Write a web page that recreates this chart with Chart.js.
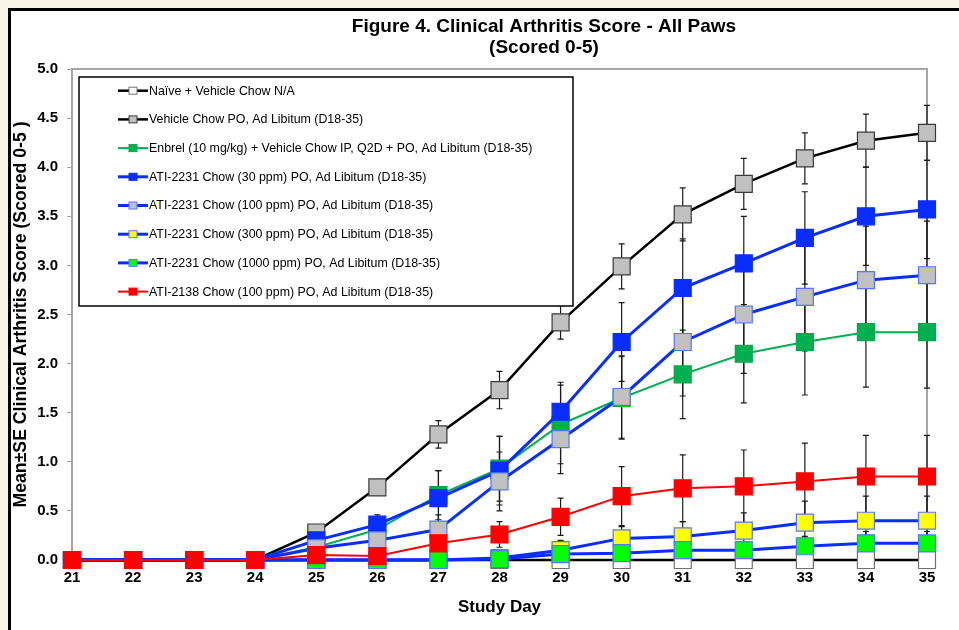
<!DOCTYPE html>
<html>
<head>
<meta charset="utf-8">
<script src="https://cdn.jsdelivr.net/npm/chart.js@4"></script>
<style>
  html, body { margin: 0; padding: 0; background: #f9f5e6; overflow: hidden; }
  #frame { position: absolute; left: 8px; top: 8px; width: 1000px; height: 700px; border: 3px solid #000; background: #fff; }
  #wrap { position: absolute; left: 0; top: 0; width: 959px; height: 630px; }
</style>
</head>
<body>
<div id="frame"></div>
<div id="wrap"><canvas id="c" width="959" height="630"></canvas></div>
<script>
const days = [21, 22, 23, 24, 25, 26, 27, 28, 29, 30, 31, 32, 33, 34, 35];

const titleLines = ['Figure 4. Clinical Arthritis Score - All Paws', '(Scored 0-5)'];

const seriesNames = [
  'Naïve + Vehicle Chow N/A',
  'Vehicle Chow PO, Ad Libitum (D18-35)',
  'Enbrel (10 mg/kg) + Vehicle Chow IP, Q2D + PO, Ad Libitum (D18-35)',
  'ATI-2231 Chow (30 ppm) PO, Ad Libitum (D18-35)',
  'ATI-2231 Chow (100 ppm) PO, Ad Libitum (D18-35)',
  'ATI-2231 Chow (300 ppm) PO, Ad Libitum (D18-35)',
  'ATI-2231 Chow (1000 ppm) PO, Ad Libitum (D18-35)',
  'ATI-2138 Chow (100 ppm) PO, Ad Libitum (D18-35)'
];

const naive      = [0, 0, 0, 0, 0, 0, 0, 0, 0, 0, 0, 0, 0, 0, 0];
const vehicle    = [0, 0, 0, 0, 0.28, 0.74, 1.28, 1.73, 2.42, 2.99, 3.52, 3.83, 4.09, 4.27, 4.35];
const enbrel     = [0, 0, 0, 0, 0.13, 0.31, 0.66, 0.93, 1.38, 1.65, 1.89, 2.10, 2.22, 2.32, 2.32];
const ati30      = [0, 0, 0, 0, 0.20, 0.36, 0.63, 0.91, 1.51, 2.22, 2.77, 3.02, 3.28, 3.50, 3.57];
const ati100     = [0, 0, 0, 0, 0.12, 0.20, 0.31, 0.80, 1.23, 1.66, 2.22, 2.50, 2.68, 2.85, 2.90];
const ati300     = [0, 0, 0, 0, 0, 0, 0, 0.02, 0.10, 0.22, 0.24, 0.30, 0.38, 0.40, 0.40];
const ati1000    = [0, 0, 0, 0, 0, 0, 0, 0.01, 0.06, 0.07, 0.10, 0.10, 0.14, 0.17, 0.17];
const ati2138    = [0, 0, 0, 0, 0.05, 0.04, 0.17, 0.26, 0.44, 0.65, 0.73, 0.75, 0.80, 0.85, 0.85];

const naiveSE    = [0, 0, 0, 0, 0, 0, 0, 0, 0, 0, 0, 0, 0, 0, 0];
const vehicleSE  = [0, 0, 0, 0, 0.03, 0.05, 0.14, 0.19, 0.17, 0.23, 0.27, 0.26, 0.26, 0.27, 0.28];
const enbrelSE   = [0, 0, 0, 0, 0.08, 0.10, 0.25, 0.33, 0.40, 0.42, 0.45, 0.50, 0.54, 0.56, 0.57];
const ati30SE    = [0, 0, 0, 0, 0.05, 0.10, 0.28, 0.35, 0.30, 0.40, 0.50, 0.48, 0.47, 0.50, 0.50];
const ati100SE   = [0, 0, 0, 0, 0.05, 0.10, 0.15, 0.30, 0.35, 0.42, 0.55, 0.60, 0.55, 0.55, 0.55];
const ati300SE   = [0, 0, 0, 0, 0, 0, 0, 0.05, 0.10, 0.12, 0.15, 0.18, 0.22, 0.25, 0.25];
const ati1000SE  = [0, 0, 0, 0, 0, 0, 0, 0, 0.05, 0.07, 0.08, 0.08, 0.10, 0.12, 0.12];
const ati2138SE  = [0, 0, 0, 0, 0.03, 0.03, 0.10, 0.13, 0.19, 0.30, 0.34, 0.37, 0.39, 0.42, 0.42];

const yTicks = [0, 0.5, 1, 1.5, 2, 2.5, 3, 3.5, 4, 4.5, 5];

const FONT = "'Liberation Sans', Arial, sans-serif";

const styles = [
  { line: '#000000', fill: '#ffffff', border: '#707070', lw: 2.5, order: 7 },
  { line: '#000000', fill: '#c0c0c0', border: '#3a3a3a', lw: 2.5, order: 6 },
  { line: '#00b050', fill: '#00b050', border: '#00a848', lw: 2, order: 5 },
  { line: '#0a2dff', fill: '#0a2dff', border: '#0a2dff', lw: 3, order: 4 },
  { line: '#0a2dff', fill: '#c0c0c0', border: '#5577ff', lw: 3, order: 3 },
  { line: '#0a2dff', fill: '#ffff00', border: '#5577ff', lw: 3, order: 2 },
  { line: '#0a2dff', fill: '#00ff00', border: '#5577ff', lw: 3, order: 1 },
  { line: '#ff0000', fill: '#ff0000', border: '#ff0000', lw: 2, order: 0 }
];
const values = [naive, vehicle, enbrel, ati30, ati100, ati300, ati1000, ati2138];
const errors = [naiveSE, vehicleSE, enbrelSE, ati30SE, ati100SE, ati300SE, ati1000SE, ati2138SE];

const datasets = values.map((vals, k) => ({
  label: seriesNames[k],
  data: days.map((d, i) => ({ x: d, y: vals[i] })),
  errs: errors[k],
  borderColor: styles[k].line,
  borderWidth: styles[k].lw,
  pointStyle: 'rect',
  pointRadius: 12,
  pointHoverRadius: 12,
  pointBackgroundColor: styles[k].fill,
  pointBorderColor: styles[k].border,
  pointBorderWidth: 1.2,
  tension: 0,
  clip: false,
  order: styles[k].order
}));

const errorBars = {
  id: 'errorBars',
  beforeDatasetsDraw(chart) {
    const ctx = chart.ctx, xs = chart.scales.x, ys = chart.scales.y;
    ctx.save();
    chart.data.datasets.forEach(ds => {
      ds.data.forEach((p, i) => {
        const e = ds.errs[i];
        if (!e) return;
        const x = xs.getPixelForValue(p.x);
        const yt = ys.getPixelForValue(p.y + e);
        const yb = ys.getPixelForValue(Math.max(0, p.y - e));
        ctx.strokeStyle = '#1a1a1a';
        ctx.lineWidth = 1.2;
        ctx.beginPath();
        ctx.moveTo(x, yt); ctx.lineTo(x, yb);
        ctx.moveTo(x - 3, yt); ctx.lineTo(x + 3, yt);
        if (p.y - e > 0) { ctx.moveTo(x - 3, yb); ctx.lineTo(x + 3, yb); }
        ctx.stroke();
      });
    });
    ctx.restore();
  }
};

const frameBox = {
  id: 'frameBox',
  beforeDatasetsDraw(chart) {
    const { ctx, chartArea: a } = chart;
    ctx.save();
    ctx.strokeStyle = '#a6a6a6';
    ctx.lineWidth = 2;
    ctx.beginPath();
    ctx.moveTo(a.left, a.bottom);
    ctx.lineTo(a.left, a.top);
    ctx.lineTo(a.right, a.top);
    ctx.lineTo(a.right, a.bottom);
    ctx.stroke();
    ctx.restore();
  }
};

const headTitle = {
  id: 'headTitle',
  afterDraw(chart) {
    const ctx = chart.ctx;
    ctx.save();
    ctx.fillStyle = '#000';
    ctx.font = 'bold 19px ' + FONT;
    ctx.textAlign = 'center';
    ctx.textBaseline = 'middle';
    ctx.fillText(titleLines[0], 544, 27);
    ctx.fillText(titleLines[1], 544, 48);
    ctx.restore();
  }
};

const boxLegend = {
  id: 'boxLegend',
  afterDatasetsDraw(chart) {
    const ctx = chart.ctx;
    const bx = 79, by = 77, bw = 494, bh = 229;
    ctx.save();
    ctx.fillStyle = '#ffffff';
    ctx.fillRect(bx, by, bw, bh);
    ctx.strokeStyle = '#000000';
    ctx.lineWidth = 1.5;
    ctx.strokeRect(bx, by, bw, bh);
    const rowY0 = 90.7, dy = 28.7;
    ctx.font = '12.4px ' + FONT;
    ctx.textBaseline = 'middle';
    ctx.textAlign = 'left';
    chart.data.datasets.forEach((ds, k) => {
      const y = rowY0 + k * dy;
      ctx.strokeStyle = ds.borderColor;
      ctx.lineWidth = ds.borderWidth;
      ctx.beginPath(); ctx.moveTo(118, y); ctx.lineTo(148, y); ctx.stroke();
      ctx.fillStyle = ds.pointBackgroundColor;
      ctx.fillRect(129, y - 3.5, 8, 7);
      ctx.strokeStyle = ds.pointBorderColor;
      ctx.lineWidth = 1;
      ctx.strokeRect(129, y - 3.5, 8, 7);
      ctx.fillStyle = '#000000';
      ctx.fillText(ds.label, 149, y + 0.5);
    });
    ctx.restore();
  }
};

new Chart(document.getElementById('c'), {
  type: 'line',
  data: { datasets },
  plugins: [frameBox, errorBars, boxLegend, headTitle],
  options: {
    responsive: false,
    animation: false,
    events: [],
    layout: { padding: { left: 8, right: 32, top: 69, bottom: 0 } },
    plugins: {
      legend: { display: false },
      tooltip: { enabled: false },
      title: { display: false }
    },
    scales: {
      x: {
        type: 'linear',
        min: days[0], max: days[days.length - 1],
        afterFit(s) { s.height = 70; },
        grid: { display: false, drawTicks: false },
        border: { display: false },
        ticks: {
          stepSize: 1, padding: 9, color: '#000',
          font: { family: FONT, size: 15, weight: 'bold' },
          callback: v => String(v)
        },
        title: {
          display: true, text: 'Study Day', color: '#000',
          font: { family: FONT, size: 17, weight: 'bold', lineHeight: 1.2 },
          padding: { top: 4, bottom: 12.8 }
        }
      },
      y: {
        min: 0, max: 5,
        afterFit(s) { s.width = 64; },
        afterBuildTicks(s) { s.ticks = yTicks.map(v => ({ value: v })); },
        grid: { display: true, drawOnChartArea: false, drawTicks: true, tickLength: 5, color: '#a6a6a6', lineWidth: 1 },
        border: { display: false },
        ticks: {
          padding: 9, color: '#000',
          font: { family: FONT, size: 15, weight: 'bold' },
          callback: v => Number(v).toFixed(1)
        },
        title: {
          display: true, text: 'Mean±SE Clinical Arthritis Score (Scored 0-5 )', color: '#000',
          font: { family: FONT, size: 17.7, weight: 'bold', lineHeight: 1.2 },
          padding: { top: 2.5, bottom: 4 }
        }
      }
    }
  }
});
</script>
</body>
</html>
